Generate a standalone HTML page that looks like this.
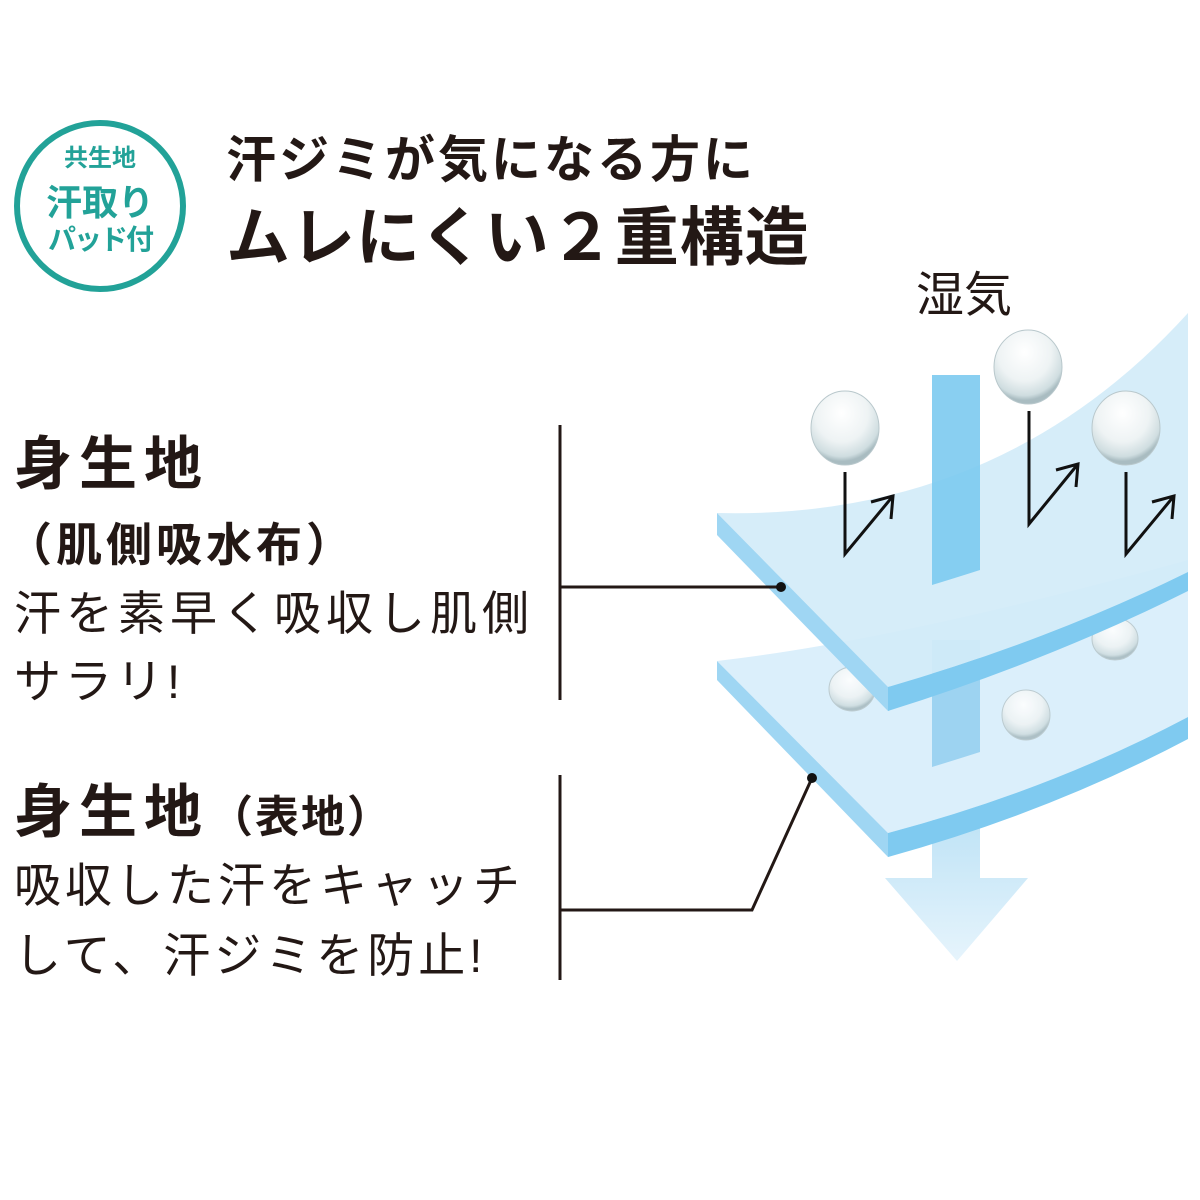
<!DOCTYPE html>
<html><head><meta charset="utf-8"><style>
body{margin:0;width:1200px;height:1200px;background:#fff;position:relative;overflow:hidden;font-family:"Liberation Sans","Noto Sans CJK JP",sans-serif;color:#231815}
.t{position:absolute;white-space:nowrap;line-height:1}
</style></head><body>
<div style="position:absolute;left:14px;top:120px;width:160px;height:160px;border:6px solid #22a298;border-radius:50%"></div>
<div class="t" style="left:0;width:200px;text-align:center;top:147px;font-size:24px;font-weight:bold;color:#22a298">共生地</div>
<div class="t" style="left:0;width:200px;text-align:center;top:185px;font-size:36px;font-weight:bold;color:#22a298">汗取り</div>
<div class="t" style="left:0;width:200px;text-align:center;top:226px;font-size:28px;font-weight:bold;color:#22a298;letter-spacing:-2px">パッド付</div>
<div class="t" style="left:226px;top:135px;font-size:50px;font-weight:bold;letter-spacing:3px">汗ジミが気になる方に</div>
<div class="t" style="left:226px;top:206px;font-size:64px;font-weight:bold;letter-spacing:1px">ムレにくい２重構造</div>
<div class="t" style="left:916px;top:272px;font-size:48px">湿気</div>
<div class="t" style="left:14px;top:436px;font-size:58px;font-weight:bold;letter-spacing:7px">身生地</div>
<div class="t" style="left:6px;top:522px;font-size:46px;font-weight:bold;letter-spacing:4px">（肌側吸水布）</div>
<div class="t" style="left:14px;top:590px;font-size:47px;letter-spacing:5px">汗を素早く吸収し肌側</div>
<div class="t" style="left:14px;top:658px;font-size:47px;letter-spacing:4px">サラリ!</div>
<div class="t" style="left:14px;top:784px;font-size:58px;font-weight:bold;letter-spacing:7px">身生地<span style="font-size:44px;letter-spacing:2px">（表地）</span></div>
<div class="t" style="left:14px;top:862px;font-size:47px;letter-spacing:4px">吸収した汗をキャッチ</div>
<div class="t" style="left:14px;top:932px;font-size:47px;letter-spacing:4px">して、汗ジミを防止!</div>
<svg width="1200" height="1200" style="position:absolute;left:0;top:0">
<defs>
<radialGradient id="d" cx="0.45" cy="0.3" r="0.65"><stop offset="0" stop-color="#fff"/><stop offset="0.6" stop-color="#eef3f4"/><stop offset="0.9" stop-color="#cfdde0"/><stop offset="1" stop-color="#a9bcc1"/></radialGradient>
<linearGradient id="ar" x1="0" y1="0" x2="0" y2="1"><stop offset="0" stop-color="#bfe3f6"/><stop offset="1" stop-color="#e6f4fc"/></linearGradient>
</defs>
<path d="M932 820 L980 820 L980 878 L1028 878 L957 961 L885 878 L932 878 Z" fill="url(#ar)"/>
<path d="M717 661 Q900 640 1188 560 L1188 717 Q1050 790 888 833 Z" fill="#dbeffb"/>
<path d="M717 661 L888 833 L888 857 L717 680 Z" fill="#9fd6f3"/>
<path d="M888 833 Q1050 790 1188 717 L1188 739 Q1050 812 888 857 Z" fill="#7fcaf0"/>
<path d="M932 640 L980 640 L980 752 Q955 760 932 767 Z" fill="#9dd3f1"/>
<ellipse cx="852" cy="689" rx="23" ry="22" fill="url(#d)" stroke="#b9c8cc" opacity="0.9"/>
<ellipse cx="1026" cy="715" rx="24" ry="25" fill="url(#d)" stroke="#b9c8cc" opacity="0.9"/>
<ellipse cx="1115" cy="639" rx="23" ry="21" fill="url(#d)" stroke="#b9c8cc" opacity="0.9"/>
<path d="M717 513 Q1000 520 1188 313 L1188 572 Q1050 640 888 687 Z" fill="#d3ebf9" opacity="0.92"/>
<path d="M717 513 L888 687 L888 711 L717 535 Z" fill="#9fd6f3"/>
<path d="M888 687 Q1050 640 1188 572 L1188 591 Q1050 660 888 711 Z" fill="#7fcaf0"/>
<path d="M932 375 L980 375 L980 570 Q955 578 932 585 Z" fill="#7ccaf0" opacity="0.9"/>
<ellipse cx="845" cy="428" rx="34" ry="37" fill="url(#d)" stroke="#b9c8cc"/>
<ellipse cx="1028" cy="367" rx="34" ry="37" fill="url(#d)" stroke="#b9c8cc"/>
<ellipse cx="1126" cy="428" rx="34" ry="37" fill="url(#d)" stroke="#b9c8cc"/>
<g stroke="#111" stroke-width="3" fill="none">
<path d="M845 472 L845 554 L893 496 M871 502 L893 496 L891 519"/>
<path d="M1029 411 L1029 524 L1078 464 M1056 470 L1078 464 L1076 487"/>
<path d="M1126 472 L1126 554 L1174 496 M1152 502 L1174 496 L1172 519"/>
</g>
<g stroke="#231815" stroke-width="3" fill="none">
<path d="M560 425 L560 700 M560 587 L781 587"/>
<path d="M560 775 L560 980 M560 910 L752 910 L812 778"/>
</g>
<circle cx="781" cy="587" r="5" fill="#111"/>
<circle cx="812" cy="778" r="5" fill="#111"/>
</svg>
</body></html>
